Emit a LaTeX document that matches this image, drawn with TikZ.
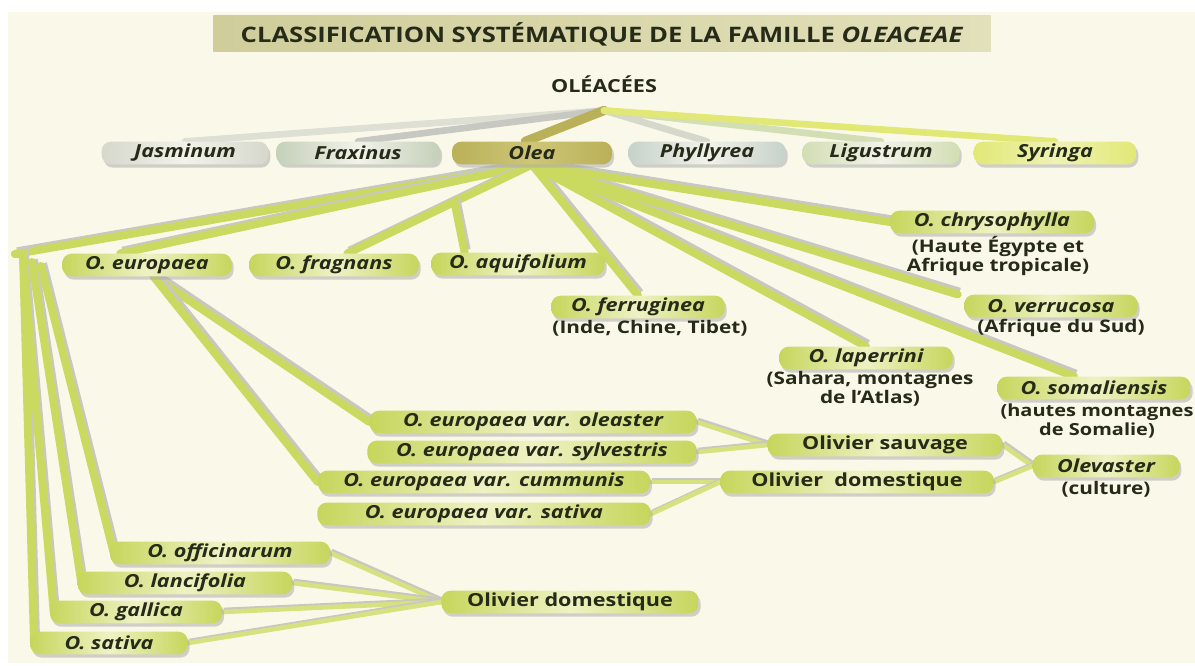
\documentclass[tikz,border=0pt]{standalone}
\usepackage{fontspec}
\setmainfont{Open Sans}[FakeStretch=1.2]
\usetikzlibrary{shadows,calc}

\definecolor{paper}{RGB}{250,249,233}
\definecolor{titlefill}{RGB}{208,205,155}
\definecolor{titlelight}{RGB}{226,224,186}
\definecolor{ink}{RGB}{38,42,24}
\definecolor{leaf}{RGB}{198,214,92}
\definecolor{leaflight}{RGB}{238,242,196}
\definecolor{stemgreen}{RGB}{202,218,96}
\definecolor{twiggreen}{RGB}{214,226,128}
\definecolor{stemshade}{RGB}{200,200,194}
\definecolor{olive}{RGB}{186,176,88}
\definecolor{olivelight}{RGB}{206,198,120}
\definecolor{greyleaf}{RGB}{214,216,204}
\definecolor{greylight}{RGB}{242,242,234}
\definecolor{sageleaf}{RGB}{196,208,184}
\definecolor{blueleaf}{RGB}{198,210,202}
\definecolor{lightleaf}{RGB}{210,222,180}
\definecolor{yellowleaf}{RGB}{226,232,118}

\pgfdeclarelayer{sheet}
\pgfdeclarelayer{stems}
\pgfsetlayers{sheet,stems,main}

\tikzset{every picture/.style={line width=0.75pt}}
\tikzset{
	box/.style={rounded corners=7pt, minimum height=17pt, inner sep=1pt, text=ink,
		font=\fontsize{13.5}{16}\selectfont\bfseries\itshape,
		drop shadow={shadow xshift=1.5pt, shadow yshift=-2.5pt, fill=black!35, opacity=0.5}},
	genus/.style={box, left color=#1, right color=#1, middle color=greylight},
	species/.style={box, left color=leaf, right color=leaf, middle color=leaflight},
	folk/.style={species, font=\fontsize{13.5}{16}\selectfont\bfseries},
	note/.style={text=ink, align=center, font=\fontsize{13}{14.5}\selectfont\bfseries},
	stem/.style={draw=stemgreen, line width=6pt, line cap=round,
		preaction={draw=stemshade, line width=6pt, transform canvas={shift={(1.5pt,2pt)}}}},
	twig/.style={draw=twiggreen, line width=3.5pt, line cap=round,
		preaction={draw=stemshade, line width=3.5pt, transform canvas={shift={(1pt,1.5pt)}}}},
	ray/.style={draw=#1, line width=5pt, line cap=round}
}

\begin{document}
\begin{tikzpicture}[x=0.75pt,y=0.75pt,yscale=-1,xscale=1]
	\useasboundingbox (0,0) rectangle (1195,666);
	\begin{pgfonlayer}{sheet}
	%Shape: Rectangle [paper]
	\fill [paper] (8,12) rectangle (1195,663);
	\end{pgfonlayer}

	% Title
	\node [left color=titlefill, right color=titlelight, minimum width=583pt, minimum height=27pt, text=ink, font=\fontsize{16}{19}\selectfont\bfseries] (title) at (602,34) {CLASSIFICATION SYSTÉMATIQUE DE LA FAMILLE \textit{OLEACEAE}};
	% Text Node
	\node [text=ink, font=\fontsize{13.5}{17}\selectfont\bfseries] (oleacees) at (604,84) {OLÉACÉES};

	% genera
	\node [genus=greyleaf, minimum width=125pt] (jasminum) at (185,153) {Jasminum};
	\node [genus=sageleaf, minimum width=123pt] (fraxinus) at (358,153) {Fraxinus};
	\node [box, left color=olive, right color=olive, middle color=olivelight, minimum width=120pt] (olea) at (532,153) {Olea};
	\node [genus=blueleaf, minimum width=118pt] (phyllyrea) at (707,153) {Phyllyrea};
	\node [genus=lightleaf, minimum width=118pt] (ligustrum) at (881,153) {Ligustrum};
	\node [box, left color=yellowleaf, right color=yellowleaf, middle color=yellowleaf!55, minimum width=122pt] (syringa) at (1055,153) {Syringa};

	% species of Olea
	\node [species, minimum width=127pt] (europaea) at (147,265) {O. europaea};
	\node [species, minimum width=127pt] (fragnans) at (334,265) {O. fragnans};
	\node [species, minimum width=130pt] (aquifolium) at (518,264) {O. aquifolium};
	\node [species, minimum width=153pt] (chrysophylla) at (992,222) {O. chrysophylla};
	\node [note] (chrysonote) at (998,256) {(Haute Égypte et\\Afrique tropicale)};
	\node [species, minimum width=130pt] (ferruginea) at (638,307) {O. ferruginea};
	\node [note] (ferrnote) at (650,328) {(Inde, Chine, Tibet)};
	\node [species, minimum width=130pt] (verrucosa) at (1051,306) {O. verrucosa};
	\node [note] (verrnote) at (1061,328) {(Afrique du Sud)};
	\node [species, minimum width=130pt] (laperrini) at (866,358) {O. laperrini};
	\node [note] (lapernote) at (870,389) {(Sahara, montagnes\\de l'Atlas)};
	\node [species, minimum width=145pt] (somaliensis) at (1094,388) {O. somaliensis};
	\node [note, font=\fontsize{12.5}{14.5}\selectfont\bfseries] (somalnote) at (1097,421) {(hautes montagnes\\de Somalie)};

	% varieties of O. europaea
	\node [species, minimum width=245pt] (oleaster) at (533,422) {O. europaea var. oleaster};
	\node [species, minimum width=247pt] (sylvestris) at (532,452) {O. europaea var. sylvestris};
	\node [species, minimum width=249pt] (cummunis) at (484,482) {O. europaea var. cummunis};
	\node [species, minimum width=250pt] (varsativa) at (484,514) {O. europaea var. sativa};
	\node [folk, minimum width=176pt] (sauvage) at (885,445) {Olivier sauvage};
	\node [folk, minimum width=205pt] (domestique) at (857,482) {Olivier\ \ domestique};
	\node [species, minimum width=110pt] (olevaster) at (1106,466) {Olevaster};
	\node [note] (culture) at (1106,489) {(culture)};

	% left group
	\node [species, minimum width=165pt] (officinarum) at (220,553) {O. officinarum};
	\node [species, minimum width=161pt] (lancifolia) at (185,583) {O. lancifolia};
	\node [species, minimum width=129pt] (gallica) at (136,612) {O. gallica};
	\node [species, minimum width=118pt] (osativa) at (109,643) {O. sativa};
	\node [folk, minimum width=193pt] (olivdom) at (570,602) {Olivier domestique};

	\coordinate (fork) at (15,254);
	\coordinate (split) at ($(olea.south)!0.42!([xshift=10]fragnans.north)$);

	\begin{pgfonlayer}{stems}
	%Straight Lines [family to genera]
	\draw [ray=greyleaf!80] ([yshift=10]oleacees.south) -- (jasminum.north);
	\draw [ray=stemshade] ([yshift=10]oleacees.south) -- (fraxinus.north);
	\draw [ray=olive, line width=7pt] ([yshift=10]oleacees.south) -- ([xshift=-5]olea.north);
	\draw [ray=greyleaf] ([yshift=10]oleacees.south) -- (phyllyrea.north);
	\draw [ray=lightleaf] ([yshift=10]oleacees.south) -- (ligustrum.north);
	\draw [ray=yellowleaf] ([yshift=10]oleacees.south) -- (syringa.north);

	%Straight Lines [Olea to species]
	\draw [stem] (olea.south) -- (fork);
	\draw [stem] (olea.south) -- ([xshift=-20]europaea.north);
	\draw [stem] (olea.south) -- ([xshift=10]fragnans.north);
	\draw [stem] (split) -- ([xshift=-40]aquifolium.north);
	\draw [stem] (olea.south) -- (ferruginea.north);
	\draw [stem] (olea.south) -- (laperrini.north);
	\draw [stem] (olea.south) -- ([xshift=-15]somaliensis.north);
	\draw [stem] (olea.south) -- ([xshift=-70]verrucosa.north);
	\draw [stem] (olea.south) -- (chrysophylla.west);

	%Straight Lines [fork to left group]
	\draw [stem] (fork) -- ($(fork)+(8,0)$) -- ([xshift=3]osativa.west);
	\draw [stem] ($(fork)+(8,4)$) -- ([xshift=3]gallica.west);
	\draw [stem] ($(fork)+(17,8)$) -- ([xshift=3]lancifolia.west);
	\draw [stem] ($(fork)+(26,12)$) -- ([xshift=3]officinarum.west);

	%Straight Lines [O. europaea to varieties]
	\draw [stem] ([xshift=5]europaea.south) -- (oleaster.west);
	\draw [stem] ([xshift=5]europaea.south) -- (cummunis.west);

	%Straight Lines [varieties to common names]
	\draw [twig] (oleaster.east) -- (sauvage.west);
	\draw [twig] (sylvestris.east) -- (sauvage.west);
	\draw [twig] (cummunis.east) -- (domestique.west);
	\draw [twig] (varsativa.east) -- (domestique.west);
	\draw [twig] (sauvage.east) -- (olevaster.west);
	\draw [twig] (domestique.east) -- (olevaster.west);
	\draw [twig] (officinarum.east) -- (olivdom.west);
	\draw [twig] (lancifolia.east) -- (olivdom.west);
	\draw [twig] (gallica.east) -- (olivdom.west);
	\draw [twig] (osativa.east) -- (olivdom.west);
	\end{pgfonlayer}
\end{tikzpicture}
\end{document}
